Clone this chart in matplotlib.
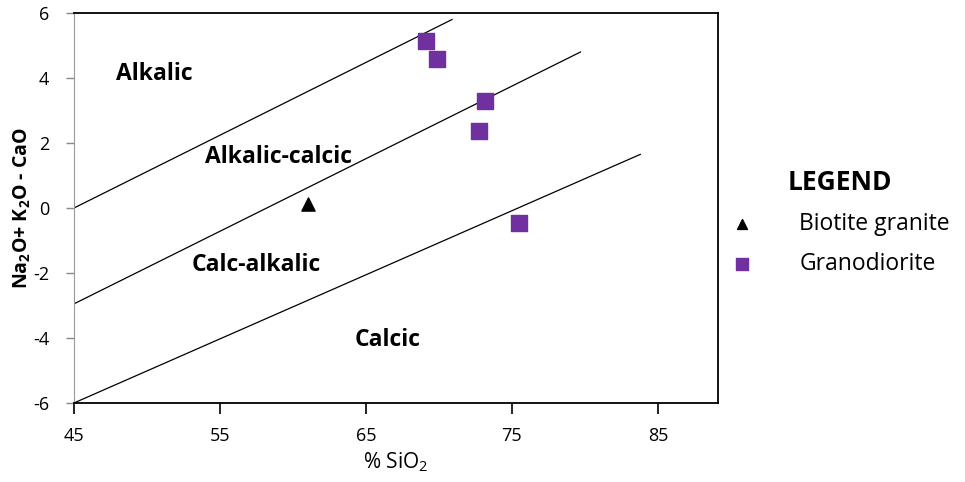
import matplotlib

matplotlib.use('Agg')
import matplotlib.pyplot as plt

plt.rcParams['font.family'] = ['Open Sans', 'DejaVu Sans']
plt.rcParams['axes.unicode_minus'] = False
plt.rcParams['mathtext.fontset'] = 'custom'
plt.rcParams['mathtext.rm'] = 'Open Sans'
plt.rcParams['mathtext.bf'] = 'Open Sans:bold'

# field boundary lines (start and end points)
bound_x = [[45, 70.9], [45, 79.7], [45, 83.8]]
bound_y = [[0, 5.8], [-2.95, 4.8], [-6, 1.65]]

# samples
bio_sio2 = [61.0]
bio_alk = [0.12]
gran_sio2 = [69.1, 69.85, 73.15, 72.75, 75.5]
gran_alk = [5.15, 4.58, 3.30, 2.37, -0.45]

fields = ['Alkalic', 'Alkalic-calcic', 'Calc-alkalic', 'Calcic']
field_x = [50.5, 59.0, 57.5, 66.5]
field_y = [4.12, 1.57, -1.75, -4.06]

xticks = [45, 55, 65, 75, 85]
yticks = [-6, -4, -2, 0, 2, 4, 6]

fig = plt.figure(figsize=(9.65, 4.82), dpi=100)
ax = fig.add_axes([0.0767, 0.164, 0.667, 0.809])

for bx, by in zip(bound_x, bound_y):
    ax.plot(bx, by, color='black', lw=0.9)

ax.scatter(bio_sio2, bio_alk, marker='^', s=90, color='black', label='Biotite granite', zorder=3)
ax.scatter(gran_sio2, gran_alk, marker='s', s=140, color='#7030A0', label='Granodiorite', zorder=3)

for t, x, y in zip(fields, field_x, field_y):
    ax.text(x, y, t, ha='center', va='center', fontsize=16.5, fontweight='bold')

ax.set_xlim(45, 89.1)
ax.set_ylim(-6, 6)
ax.set_xticks(xticks)
ax.set_yticks(yticks)
ax.tick_params(axis='x', direction='out', length=8, width=1.2, pad=9, labelsize=13)
ax.tick_params(axis='y', direction='out', length=6, width=1, color='#888888', pad=12, labelsize=13)
for s in ['top', 'bottom', 'right']:
    ax.spines[s].set_linewidth(1.3)
ax.spines['left'].set_color('#999999')

ax.set_xlabel('% SiO$_2$', fontsize=15, labelpad=4)
ax.set_ylabel(r'Na$_\mathbf{2}$O+ K$_\mathbf{2}$O - CaO', fontsize=14, fontweight='bold')
ax.yaxis.set_label_coords(-0.064, 0.5)

leg = ax.legend(loc='upper left', bbox_to_anchor=(0.745, 0.674), bbox_transform=fig.transFigure,
                frameon=False, fontsize=16.5, title='LEGEND', handlelength=1.0, handletextpad=2.0,
                labelspacing=0.7, markerscale=0.75, borderpad=0)
leg.get_title().set_fontweight('bold')
leg.get_title().set_fontsize(19)

plt.savefig('out.png')
plt.close()
